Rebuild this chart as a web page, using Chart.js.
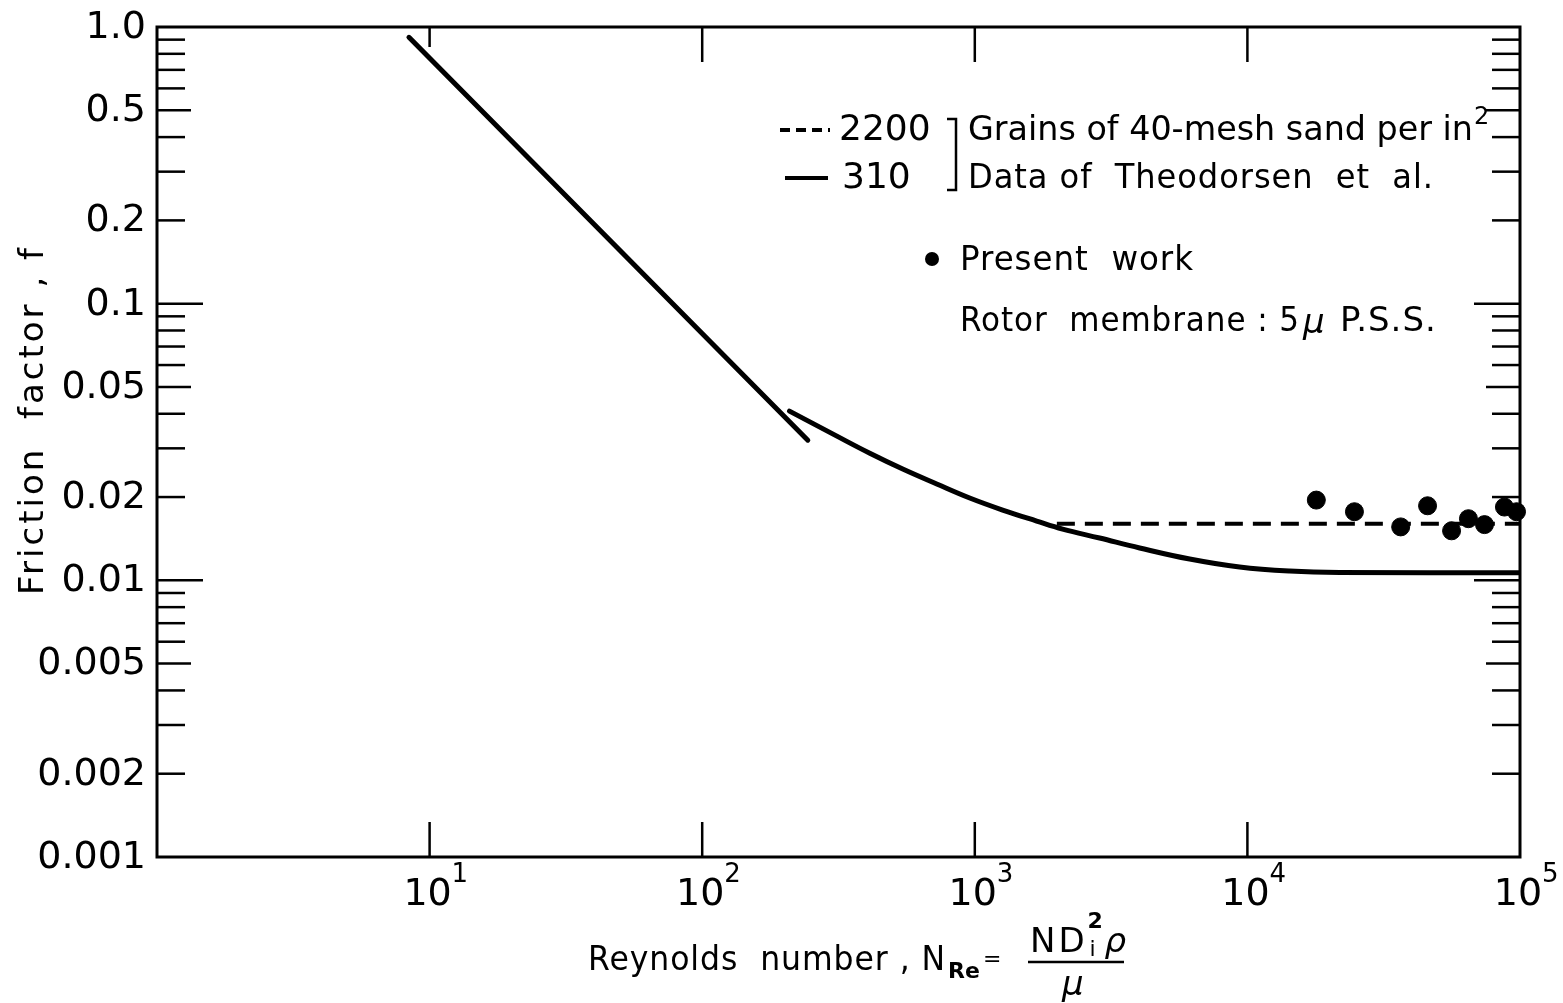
<!DOCTYPE html>
<html>
<head>
<meta charset="utf-8">
<script src="https://cdn.jsdelivr.net/npm/chart.js@4.4.1/dist/chart.umd.min.js"></script>
<style>
  html, body { margin: 0; background: #fff; }
  #wrap { width: 1563px; height: 1003px; }
</style>
</head>
<body>
<div id="wrap"><canvas id="chart"></canvas></div>
<script>
// laminar line (Theodorsen)
var laminarRe = [8.4, 244];
var laminarF = [0.918, 0.0321];
// 310 grains curve
var roughRe = [209, 312, 412, 544, 725, 958, 1265, 1686, 2100, 2870, 4025, 6140, 9360, 14290, 21800, 100000];
var roughF = [0.0409, 0.0332, 0.0288, 0.02525, 0.0223, 0.01984, 0.01795, 0.01638, 0.01532, 0.01422, 0.01309, 0.01194, 0.01117, 0.0108, 0.01067, 0.01065];
// 2200 grains (dashed)
var sandRe = [2000, 100000];
var sandF = [0.0160, 0.0160];
// present work
var presentRe = [17900, 24700, 36500, 45800, 56100, 64700, 74100, 87700, 97100];
var presentF = [0.0195, 0.0177, 0.0156, 0.0186, 0.0151, 0.0167, 0.0159, 0.0184, 0.0177];

var yTickValues = [1, 0.5, 0.2, 0.1, 0.05, 0.02, 0.01, 0.005, 0.002, 0.001];
var yTickLabels = ['1.0', '0.5', '0.2', '0.1', '0.05', '0.02', '0.01', '0.005', '0.002', '0.001'];
var xTickValues = [10, 100, 1000, 10000, 100000];
var xTickExp = ['1', '2', '3', '4', '5'];

var FONT = '"DejaVu Sans", sans-serif';

function pts(xs, ys) {
    var out = [];
    for (var i = 0; i < xs.length; i++) out.push({x: xs[i], y: ys[i]});
    return out;
}

function seg(ctx, x1, y1, x2, y2) {
    ctx.beginPath();
    ctx.moveTo(x1, y1);
    ctx.lineTo(x2, y2);
    ctx.stroke();
}

var decor = {
    id: 'decor',
    afterDatasetsDraw: function(chart) {
        var ctx = chart.ctx, a = chart.chartArea;
        var xs = chart.scales.x, ys = chart.scales.y;
        ctx.save();
        ctx.strokeStyle = '#000';
        ctx.fillStyle = '#000';

        // frame
        ctx.lineWidth = 3;
        ctx.strokeRect(a.left, a.top, a.right - a.left, a.bottom - a.top);

        // y ticks, both sides, pointing in
        ctx.lineWidth = 2.5;
        for (var e = -3; e < 0; e++) {
            for (var m = 1; m <= 9; m++) {
                if (m === 1 && e === -3) continue;
                var py = ys.getPixelForValue(m * Math.pow(10, e));
                var len = m === 1 ? 46 : (m === 5 ? 34 : 28);
                seg(ctx, a.left, py, a.left + len, py);
                seg(ctx, a.right, py, a.right - len, py);
            }
        }
        // x ticks
        for (var i = 0; i < 4; i++) {
            var px = xs.getPixelForValue(xTickValues[i]);
            seg(ctx, px, a.bottom, px, a.bottom - 35);
            seg(ctx, px, a.top, px, a.top + (i === 0 ? 20 : 35));
        }

        // y labels
        ctx.font = '38px ' + FONT;
        ctx.textAlign = 'right';
        ctx.textBaseline = 'middle';
        for (var j = 0; j < yTickValues.length; j++) {
            ctx.fillText(yTickLabels[j], a.left - 11, ys.getPixelForValue(yTickValues[j]) + 1);
        }
        // x labels
        ctx.textBaseline = 'alphabetic';
        for (var k = 0; k < xTickValues.length; k++) {
            var tx = xs.getPixelForValue(xTickValues[k]);
            ctx.font = '38px ' + FONT;
            ctx.textAlign = 'center';
            ctx.fillText('10', tx - 2, 905);
            ctx.font = '26px ' + FONT;
            ctx.textAlign = 'left';
            ctx.fillText(xTickExp[k], tx + 22, 882);
        }

        // y title
        ctx.save();
        ctx.translate(34, 420);
        ctx.rotate(-Math.PI / 2);
        ctx.font = '34px ' + FONT;
        ctx.letterSpacing = '3px';
        ctx.textAlign = 'center';
        ctx.textBaseline = 'middle';
        ctx.fillText('Friction  factor , f', 0, 0);
        ctx.restore();

        // x title
        ctx.textAlign = 'left';
        ctx.textBaseline = 'alphabetic';
        ctx.font = '34px ' + FONT;
        ctx.letterSpacing = '1px';
        ctx.fillText('Reynolds  number , N', 588, 970, 358);
        ctx.letterSpacing = '0px';
        ctx.font = 'bold 22px ' + FONT;
        ctx.fillText('Re', 948, 978);
        ctx.font = '22px ' + FONT;
        ctx.fillText('=', 983, 966);
        ctx.font = '34px ' + FONT;
        ctx.letterSpacing = '3px';
        ctx.fillText('ND', 1030, 952);
        var nx = 1030 + ctx.measureText('ND').width;
        ctx.letterSpacing = '0px';
        ctx.font = 'bold 22px ' + FONT;
        ctx.fillText('2', nx, 928);
        ctx.font = '22px ' + FONT;
        ctx.fillText('i', nx + 2, 956);
        ctx.font = 'italic 34px ' + FONT;
        ctx.fillText('\u03c1', nx + 17, 952);
        ctx.lineWidth = 2.5;
        seg(ctx, 1028, 962, 1124, 962);
        ctx.fillText('\u03bc', 1062, 995);

        // legend block
        ctx.lineWidth = 4;
        ctx.setLineDash([10, 6]);
        seg(ctx, 780, 130, 830, 130);
        ctx.setLineDash([]);
        seg(ctx, 785, 178, 828, 178);
        ctx.lineWidth = 2.5;
        ctx.beginPath();
        ctx.moveTo(947, 119);
        ctx.lineTo(956, 119);
        ctx.lineTo(956, 190);
        ctx.lineTo(947, 190);
        ctx.stroke();

        ctx.font = '36px ' + FONT;
        ctx.textBaseline = 'middle';
        ctx.fillText('2200', 839, 131);
        ctx.fillText('310', 842, 179);
        ctx.font = '34px ' + FONT;
        ctx.fillText('Grains of 40-mesh sand per in', 968, 131, 505);
        ctx.font = '24px ' + FONT;
        ctx.fillText('2', 1474, 118);
        ctx.font = '34px ' + FONT;
        ctx.letterSpacing = '1px';
        ctx.fillText('Data of  Theodorsen  et  al.', 968, 179, 466);
        ctx.fillText('Present  work', 960, 261, 234);
        ctx.letterSpacing = '0px';
        ctx.beginPath();
        ctx.arc(932, 259, 7, 0, Math.PI * 2);
        ctx.fill();
        ctx.letterSpacing = '1px';
        var rotor = 'Rotor  membrane : 5';
        var rw = Math.min(ctx.measureText(rotor).width, 340);
        ctx.fillText(rotor, 960, 322, 340);
        ctx.letterSpacing = '0px';
        ctx.font = 'italic 34px ' + FONT;
        ctx.fillText('\u03bc', 960 + rw + 3, 324);
        ctx.font = '34px ' + FONT;
        ctx.letterSpacing = '1px';
        ctx.fillText('P.S.S.', 960 + rw + 40, 322, 104);
        ctx.restore();
    }
};

var ctx = document.getElementById('chart').getContext('2d');
var chart = new Chart(ctx, {
    type: 'scatter',
    data: {
        datasets: [{
            label: 'laminar',
            data: pts(laminarRe, laminarF),
            showLine: true,
            borderColor: '#000',
            borderWidth: 5,
            borderCapStyle: 'round',
            pointRadius: 0
        }, {
            label: '310',
            data: pts(roughRe, roughF),
            showLine: true,
            borderColor: '#000',
            borderWidth: 5,
            borderCapStyle: 'round',
            tension: 0.4,
            pointRadius: 0
        }, {
            label: '2200',
            data: pts(sandRe, sandF),
            showLine: true,
            borderColor: '#000',
            borderWidth: 4,
            borderDash: [18, 10],
            pointRadius: 0
        }, {
            label: 'Present work',
            data: pts(presentRe, presentF),
            showLine: false,
            backgroundColor: '#000',
            borderColor: '#000',
            pointRadius: 9,
            clip: false
        }]
    },
    options: {
        responsive: true,
        maintainAspectRatio: false,
        animation: false,
        devicePixelRatio: 1,
        layout: { padding: { left: 157, top: 27, right: 43, bottom: 146 } },
        plugins: { legend: { display: false }, tooltip: { enabled: false } },
        scales: {
            x: { type: 'logarithmic', min: 1, max: 100000, display: false },
            y: { type: 'logarithmic', min: 0.001, max: 1, display: false }
        }
    },
    plugins: [decor]
});
</script>
</body>
</html>
